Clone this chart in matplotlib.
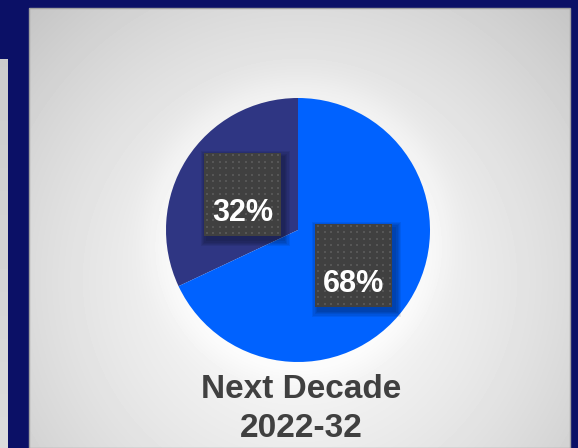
import numpy as np
import matplotlib.pyplot as plt
from matplotlib.patches import Rectangle

shares = [32, 68]
labels = ['32%', '68%']
colors = ['#2f3683', '#0062ff']
title = 'Next Decade\n2022-32'

plt.rcParams['font.family'] = ['Liberation Sans', 'DejaVu Sans']

W, H = 578, 448
fig = plt.figure(figsize=(W / 100, H / 100), dpi=100)
fig.patch.set_facecolor('#0b1066')

# background in pixel coordinates
bg = fig.add_axes([0, 0, 1, 1])
bg.axis('off')

cx, cy, r = 298, 230, 132

# panel with a soft radial gradient and a light halo round the pie
yy, xx = np.mgrid[8:448, 29:570] + 0.5
d = np.sqrt((xx - 300) ** 2 + (yy - 280) ** 2) / 350.0
shade = 0.98 - 0.18 * d ** 1.56
dp = np.sqrt((xx - cx) ** 2 + (yy - cy) ** 2) - r
shade += 0.03 * np.exp(-(np.clip(dp, 0, None) / 25.0) ** 2)
shade = np.clip(shade, 0.74, 0.985)
bg.imshow(shade, cmap='gray', vmin=0, vmax=1, extent=[29, 570, 448, 8],
          interpolation='bilinear', aspect='auto', zorder=1)
bg.add_patch(Rectangle((29, 8), 541, 440, fill=False, ec='#a0a0a0', lw=1, zorder=2))

# piece of the neighbouring panel
yy2 = np.linspace(0, 1, 50)[:, None] * np.ones((1, 4))
bg.imshow(0.80 + 0.06 * yy2, cmap='gray', vmin=0, vmax=1,
          extent=[0, 8, 448, 59], aspect='auto', zorder=1)

bg.set_xlim(0, W)
bg.set_ylim(H, 0)

bg.text(301, 409, title, ha='center', va='center', fontsize=24, fontweight='bold',
        color='#404040', linespacing=1.32, zorder=3)

# pie
pax = fig.add_axes([(cx - r) / W, (H - cy - r) / H, 2 * r / W, 2 * r / H])
wedges, _ = pax.pie(shares, colors=colors, startangle=90, counterclock=True,
                    radius=1, wedgeprops=dict(linewidth=0))
pax.set_xlim(-1, 1)
pax.set_ylim(-1, 1)
pax.axis('off')

bw, bh = 77 / r, 83 / r
for w, lab in zip(wedges, labels):
    mid = np.deg2rad((w.theta1 + w.theta2) / 2)
    x0, y0 = 0.5 * np.cos(mid), 0.5 * np.sin(mid)
    # blurred drop shadow
    for k in range(5):
        pad = (5 - k) * 1.2 / r
        pax.add_patch(Rectangle((x0 - bw / 2 + 3 / r - pad, y0 - bh / 2 - 4 / r - pad),
                                bw + 2 * pad, bh + 2 * pad, fc='black', ec='none',
                                alpha=0.07, zorder=3))
    pax.add_patch(Rectangle((x0 - bw / 2, y0 - bh / 2), bw, bh, fc='#404040',
                            ec='none', zorder=4))
    # dotted texture
    gx = np.arange(x0 - bw / 2 + 3 / r, x0 + bw / 2 - 1 / r, 6.5 / r)
    gy = np.arange(y0 - bh / 2 + 3 / r, y0 + bh / 2 - 1 / r, 6.5 / r)
    GX, GY = np.meshgrid(gx, gy)
    pax.scatter(GX.ravel(), GY.ravel(), s=3, marker='s', c='#565656',
                linewidths=0, zorder=5)
    pax.text(x0, y0 - 18.5 / r, lab, ha='center', va='center', fontsize=22,
             fontweight='bold', color='white', zorder=6)

fig.savefig('out.png', dpi=100, facecolor=fig.get_facecolor())
